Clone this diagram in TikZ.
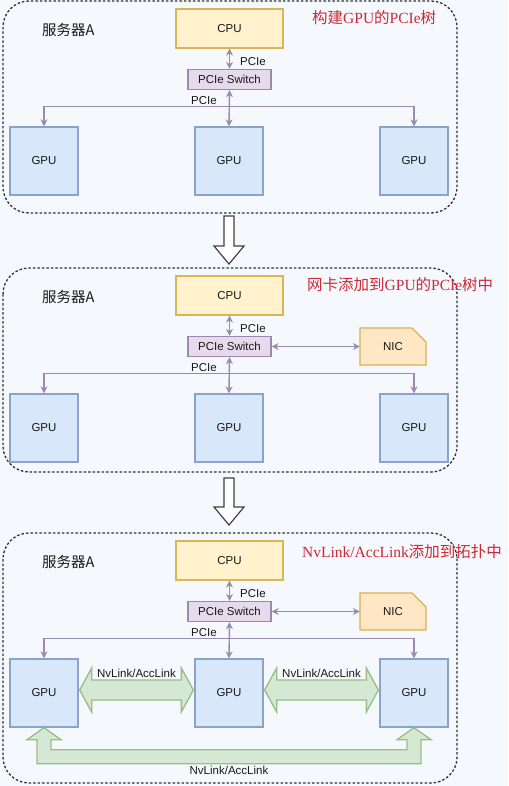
\documentclass[tikz,border=0pt]{standalone}
\usepackage{fontspec}
\setmainfont{Liberation Sans}
\newfontfamily\cjk{Noto Sans CJK SC}
\newfontfamily\titlerm{Liberation Serif}
\usetikzlibrary{arrows.meta,calc}
\newcommand{\lbl}{\fontsize{11.5}{13}\selectfont}
\newcommand{\ttl}{\fontsize{15.5}{18}\selectfont}
\newcommand{\zh}[1]{{\cjk #1}}
\definecolor{bg}{HTML}{F5F8FC}
\definecolor{cpufill}{HTML}{FFF2CC}
\definecolor{cpuline}{HTML}{D6B656}
\definecolor{swfill}{HTML}{E6DAEC}
\definecolor{swline}{HTML}{9F88B0}
\definecolor{gpufill}{HTML}{D8E7FA}
\definecolor{gpuline}{HTML}{8AA3C8}
\definecolor{nicfill}{HTML}{FFE6C4}
\definecolor{nicline}{HTML}{D9B24E}
\definecolor{nvfill}{HTML}{D5E8D4}
\definecolor{nvline}{HTML}{97BF83}
\definecolor{linkcol}{HTML}{9A8AAE}
\definecolor{titlered}{HTML}{CC2A36}

\begin{document}
\begin{tikzpicture}[x=1pt,y=-1pt,
   box/.style={draw,line width=1.3pt,inner sep=0pt,font=\lbl,text=black!90},
   cpubox/.style={box,fill=cpufill,draw=cpuline,minimum width=107pt,minimum height=39pt},
   swbox/.style={box,fill=swfill,draw=swline,minimum width=83pt,minimum height=20pt},
   gpubox/.style={box,fill=gpufill,draw=gpuline,minimum width=68pt,minimum height=68pt},
   nicbox/.style={inner sep=0pt,font=\lbl,text=black!90,minimum width=66pt,minimum height=37pt},
   nicshape/.style={fill=nicfill,draw=nicline,line width=1.3pt},
   link/.style={draw=linkcol,line width=1.4pt,{Stealth[length=7pt,width=7pt]}-{Stealth[length=7pt,width=7pt]}},
   linklbl/.style={font=\lbl,text=black!90,inner sep=0pt},
   fat/.style={fill=nvfill,draw=nvline,line width=1.3pt,line join=miter},
   frame/.style={draw=black!80,line width=1.3pt,dash pattern=on 2.5pt off 2pt,rounded corners=26pt},
   hollow/.style={fill=white,draw=black!75,line width=1.2pt},
   server/.style={font=\cjk\fontsize{14.5}{16}\selectfont,text=black!90,anchor=west,inner sep=0pt},
   title/.style={font=\titlerm\ttl,text=titlered,anchor=west,inner sep=0pt}]
   \fill[bg] (0,0) rectangle (508,786);
   \useasboundingbox (0,0) rectangle (508,786);
   % the three copies of server A
   \foreach \o/\fb [count=\i] in {0/213,267/205,532/251} {
      \draw[frame] (3,{\o+1}) rectangle (457,{\o+\fb});
      \node[server] (srv\i) at (42,{\o+30}) {服务器A};
      \node[cpubox] (cpu\i) at (229.5,{\o+28.5}) {CPU};
      \node[swbox] (sw\i) at (229.5,{\o+79.5}) {PCIe Switch};
      \node[gpubox] (gA\i) at (44,{\o+161}) {GPU};
      \node[gpubox] (gB\i) at (229,{\o+161}) {GPU};
      \node[gpubox] (gC\i) at (414,{\o+161}) {GPU};
      \draw[link] (cpu\i.south) -- (sw\i.north);
      \draw[link] (sw\i.south) -- (gB\i.north);
      \draw[link] (gA\i.north) -- ++(0,-20) -| (gC\i.north);
      \node[linklbl,anchor=west] (up\i) at (240,{\o+62}) {PCIe};
      \node[linklbl] (bus\i) at (204,{\o+101}) {PCIe};
   }
   % network card
   \foreach \o [count=\i from 2] in {267,532} {
      \filldraw[nicshape] (360,{\o+61}) -- (412,{\o+61}) -- (426,{\o+75})
         -- (426,{\o+98}) -- (360,{\o+98}) -- cycle;
      \node[nicbox] (nic\i) at (393,{\o+79.5}) {NIC};
      \draw[link] (sw\i.east) -- (nic\i.west);
   }
   % titles
   \node[title] (t1) at (312,18) {\zh{构建}GPU\zh{的}PCIe\zh{树}};
   \node[title] (t2) at (307,285) {\zh{网卡添加到}GPU\zh{的}PCIe\zh{树中}};
   \node[title] (t3) at (302,552) {NvLink/AccLink\zh{添加到拓扑中}};
   % arrows between the steps
   \foreach \t/\b in {216/246,478/507}
      \filldraw[hollow] (224,\t) -- (234,\t) -- (234,\b) -- (244,\b)
         -- (229,\b+18) -- (214,\b) -- (224,\b) -- cycle;
   % NvLink between neighbours
   \coordinate (p1) at ($(gA3.east)+(1,-3)$);
   \coordinate (q1) at ($(gB3.west)+(-1,-3)$);
   \coordinate (p2) at ($(gB3.east)+(1,-3)$);
   \coordinate (q2) at ($(gC3.west)+(-1,-3)$);
   \foreach \k in {1,2} {
      \filldraw[fat] (p\k) -- ++(12,-22) -- ++(0,12) -- ($(q\k)+(-12,-10)$) -- ++(0,-12)
         -- (q\k) -- ++(-12,22) -- ++(0,-12) -- ($(p\k)+(12,10)$) -- ++(0,12) -- cycle;
      \node[linklbl] (nv\k) at ($(p\k)!0.5!(q\k)+(0,-17)$) {NvLink/AccLink};
   }
   % NvLink between the outer GPUs
   \filldraw[fat] (gA3.south) -- ++(17,12) -- ++(-10,0) -- ($(gA3.south)+(7,22)$)
      -- ($(gC3.south)+(-7,22)$) -- ($(gC3.south)+(-7,12)$) -- ++(-10,0) -- (gC3.south)
      -- ++(17,12) -- ++(-10,0) -- ($(gC3.south)+(7,36)$) -- ($(gA3.south)+(-7,36)$)
      -- ($(gA3.south)+(-7,12)$) -- ++(-10,0) -- cycle;
   \node[linklbl] (nv3) at ($(gB3.south)+(0,43)$) {NvLink/AccLink};
\end{tikzpicture}
\end{document}
